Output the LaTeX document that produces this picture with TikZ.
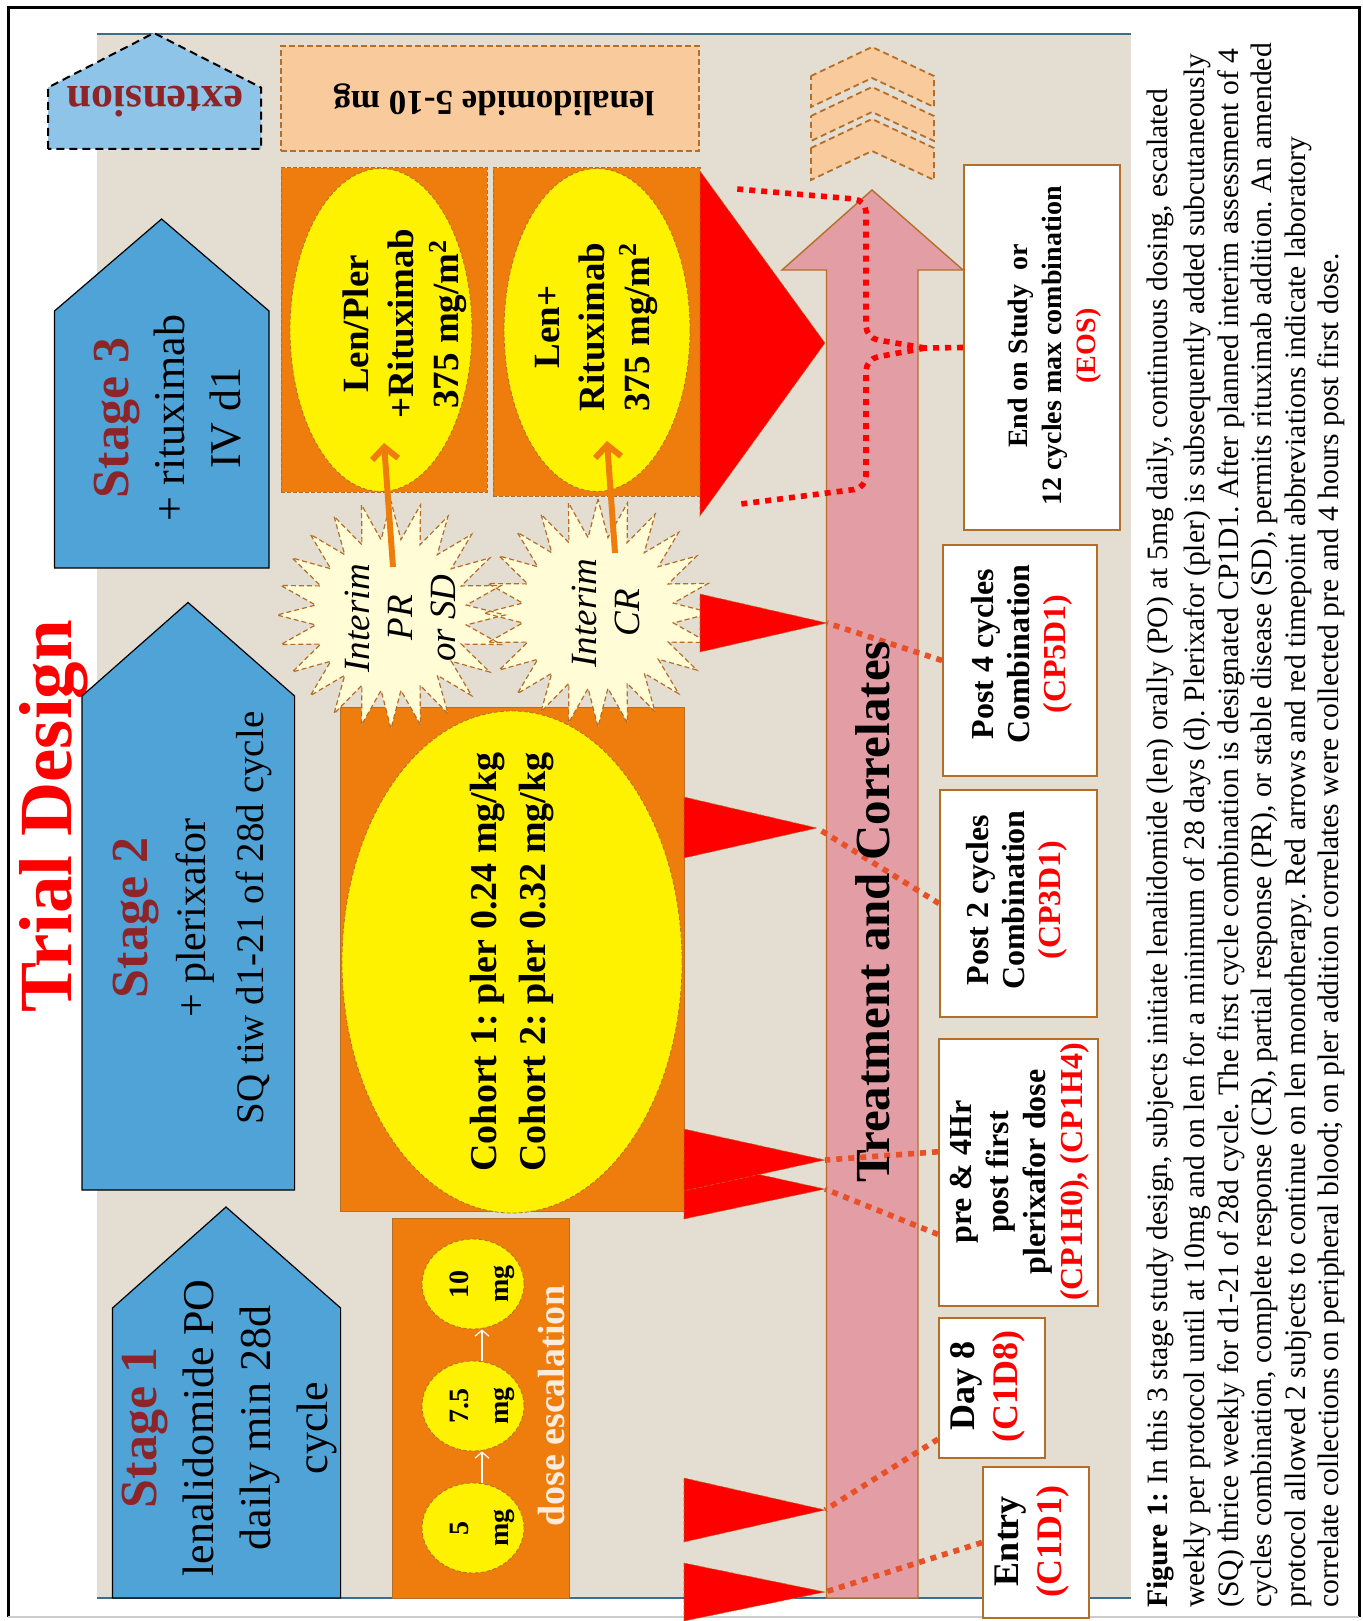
\documentclass[tikz,border=0pt]{standalone}
\usepackage{fontspec}
\setmainfont{Liberation Serif}
\usetikzlibrary{shapes.geometric,arrows.meta,calc}
\definecolor{beige}{RGB}{227,221,210}
\definecolor{stblue}{RGB}{79,163,214}
\definecolor{extblue}{RGB}{141,196,232}
\definecolor{orng}{RGB}{238,125,14}
\definecolor{brwn}{RGB}{181,110,40}
\definecolor{peach}{RGB}{249,202,156}
\definecolor{pinkA}{RGB}{227,157,165}
\definecolor{starfill}{RGB}{255,252,214}
\definecolor{darkred}{RGB}{140,36,40}
\definecolor{dotred}{RGB}{232,80,40}
\definecolor{lineblue}{RGB}{60,110,140}
\definecolor{palepeach}{RGB}{253,235,220}
\frenchspacing
\begin{document}
\begin{tikzpicture}[x=0.5pt,y=-0.5pt,
  stagearrow/.style={fill=stblue,draw=black,line width=0.6pt},
  wbox/.style={draw=brwn,fill=white,line width=1pt,rotate=90,inner sep=0pt},
  tri/.style={fill=red,draw=brwn,line width=0.3pt,dash pattern=on 2pt off 1pt},
  dotline/.style={dotred,line width=2.8pt,dash pattern=on 3pt off 3pt},
  eosline/.style={red,line width=2.8pt,dash pattern=on 3pt off 3pt,rounded corners=6pt},
  rtext/.style={rotate=90,align=center,inner sep=0pt},
  yell/.style={ellipse,fill=yellow,draw=brwn,line width=0.4pt,dash pattern=on 2pt off 1pt,inner sep=0pt},
  orbox/.style={fill=orng,draw=brwn,line width=0.5pt,inner sep=0pt},
  chev/.style={fill=peach,draw=brwn,line width=0.9pt,dash pattern=on 3pt off 2pt},
  starb/.style={star,star points=24,star point ratio=1.5,minimum size=114pt,inner sep=0pt},
  caption/.style={rotate=90,anchor=mid west,inner sep=0pt,font=\fontsize{14.8}{17}\selectfont},
]
\useasboundingbox (0,0) rectangle (1363,1621);
\fill[white] (0,0) rectangle (1363,1621);
% frame
\draw[line width=1.5pt] (8,1617) -- (8,8) -- (1359,8) -- (1359,1617);
\draw[gray!40,line width=1pt] (8,1617) -- (1359,1617);
% panel
\fill[beige] (97,34) rectangle (1131,1598);
\draw[lineblue,line width=0.6pt] (97,34) -- (1131,34);
\draw[lineblue,line width=0.6pt] (97,1598) -- (1131,1598);
% title
\node[rotate=90,anchor=base,text=red,inner sep=0pt,font=\fontsize{37.5}{40}\selectfont\bfseries] (title) at (71,816) {Trial Design};
% stage arrows
\path[stagearrow] (112.5,1598) -- (112.5,1308) -- (226,1207) -- (340.6,1308) -- (340.6,1598) -- cycle;
\path[stagearrow] (82,1190) -- (82,696) -- (188,602.5) -- (294.6,696) -- (294.6,1190) -- cycle;
\path[stagearrow] (54.5,568) -- (54.5,311) -- (161.6,219) -- (269,311) -- (269,568) -- cycle;
\path[fill=extblue,draw=black,line width=1pt,dash pattern=on 4pt off 2.5pt] (48,149) -- (48,87.5) -- (154,33) -- (261,87.5) -- (261,149) -- cycle;
\node[rotate=180,inner sep=0pt,text=darkred,font=\fontsize{22}{24}\selectfont\bfseries] (ext) at (155,102) {extension};
\node[rtext,font=\fontsize{22}{28.5}\selectfont] (st1) at (230,1428) {{\fontsize{26}{28.5}\selectfont\bfseries\color{darkred}Stage 1}\\lenalidomide PO\\daily min 28d\\cycle};
\node[rtext,font=\fontsize{21}{29}\selectfont] (st2) at (192,918) {{\fontsize{26}{29}\selectfont\bfseries\color{darkred}Stage 2}\\+ plerixafor\\{\fontsize{19.5}{29}\selectfont SQ tiw d1-21 of 28d cycle}};
\node[rtext,font=\fontsize{22}{28}\selectfont] (st3) at (167.5,418) {{\fontsize{26}{28}\selectfont\bfseries\color{darkred}Stage 3}\\+ rituximab\\IV d1};
% lenalidomide extension box
\node[fill=peach,draw=brwn,line width=0.6pt,dash pattern=on 3pt off 1.5pt,minimum width=209pt,minimum height=52.5pt,inner sep=0pt] (lenbox) at (490,98.5) {};
\node[rotate=180,inner sep=0pt,font=\fontsize{17.5}{20}\selectfont\bfseries] (lentext) at (494,100) {lenalidomide 5-10 mg};
% stage 3 boxes
\node[orbox,dash pattern=on 2pt off 1pt,minimum width=103pt,minimum height=162pt] (boxA) at (384,330) {};
\node[orbox,dash pattern=on 2pt off 1pt,minimum width=103.5pt,minimum height=164pt] (boxB) at (596.5,332) {};
\node[yell,minimum width=91pt,minimum height=161.5pt] (ellA) at (381,330) {};
\node[yell,minimum width=93pt,minimum height=161.5pt] (ellB) at (597,330) {};
\node[rtext,font=\fontsize{18.5}{22.5}\selectfont\bfseries] (ta) at (405,324) {Len/Pler\\+Rituximab\\375 mg/m\textsuperscript{2}};
\node[rtext,font=\fontsize{18.5}{22.5}\selectfont\bfseries] (tb) at (596,327) {Len+\\Rituximab\\375 mg/m\textsuperscript{2}};
% stage 2 box
\node[orbox,minimum width=172pt,minimum height=252pt] (boxC) at (512,959) {};
\node[yell,minimum width=170pt,minimum height=251pt] (ellC) at (512,962) {};
\node[rtext,font=\fontsize{19}{24.5}\selectfont\bfseries] (tc) at (512,962) {Cohort 1: pler 0.24 mg/kg\\Cohort 2: pler 0.32 mg/kg};
% stage 1 dose box
\node[orbox,minimum width=88.5pt,minimum height=190pt] (boxD) at (480.5,1408) {};
\node[yell,minimum width=51pt,minimum height=45pt] (d10) at (473,1284) {};
\node[yell,minimum width=51pt,minimum height=45pt] (d75) at (473,1406) {};
\node[yell,minimum width=51pt,minimum height=45pt] (d5) at (473,1528) {};
\node[rtext,font=\fontsize{14}{20}\selectfont\bfseries] (t10) at (482,1284) {10\\mg};
\node[rtext,font=\fontsize{14}{20}\selectfont\bfseries] (t75) at (482,1406) {7.5\\mg};
\node[rtext,font=\fontsize{14}{20}\selectfont\bfseries] (t5) at (482,1528) {5\\mg};
\draw[white,line width=0.6pt,-{Straight Barb[length=3pt,width=7pt]}] ([xshift=4.5pt]d5.north) -- ([xshift=4.5pt]d75.south);
\draw[white,line width=0.6pt,-{Straight Barb[length=3pt,width=7pt]}] ([xshift=4.5pt]d75.north) -- ([xshift=4.5pt]d10.south);
\node[rtext,text=palepeach,font=\fontsize{19}{22}\selectfont\bfseries] (desc) at (551,1406) {dose escalation};
% starbursts
\node[starb,fill=starfill] (sbA) at (391,615) {};
\node[starb,fill=starfill] (sbB) at (598,613) {};
\node[starb,draw=brwn,line width=0.6pt,dash pattern=on 2.5pt off 1.5pt] (sbAo) at (391,615) {};
\node[starb,draw=brwn,line width=0.6pt,dash pattern=on 2.5pt off 1.5pt] (sbBo) at (598,613) {};
\node[rtext,font=\fontsize{18.5}{21.5}\selectfont\itshape] (ia) at (400,618) {Interim\\PR\\or SD};
\node[rtext,font=\fontsize{18.5}{21.5}\selectfont\itshape] (ib) at (606,613) {Interim\\CR};
\coordinate (aA0) at (393,567);
\coordinate (aA1) at (384,443);
\coordinate (aB0) at (615,553);
\coordinate (aB1) at (607,441);
\draw[orng,line width=3pt,-{Straight Barb[length=6pt,width=13pt]}] (aA0) -- (aA1);
\draw[orng,line width=3pt,-{Straight Barb[length=6pt,width=13pt]}] (aB0) -- (aB1);
% pink arrow
\path[fill=pinkA,draw=brwn,line width=0.7pt] (826.5,1598) -- (826.5,270) -- (782,270) -- (872,190) -- (963,270) -- (918,270) -- (918,1598) -- cycle;
% chevrons
\path[chev] (811,148) -- (872,119) -- (934,148) -- (934,180) -- (872,151) -- (811,180) -- cycle;
\path[chev] (811,116) -- (872,87) -- (934,116) -- (934,141) -- (872,112) -- (811,141) -- cycle;
\path[chev] (811,76) -- (872,47) -- (934,76) -- (934,107) -- (872,78) -- (811,107) -- cycle;
% red triangles
\coordinate (tip1) at (825,343);
\coordinate (tip2) at (827,623);
\coordinate (tip3) at (817,828);
\coordinate (tip4a) at (825,1160);
\coordinate (tip4b) at (825,1189);
\coordinate (tip5) at (825,1510);
\coordinate (tip6) at (825,1592);
\path[tri] (700,171) -- (tip1) -- (700,516) -- cycle;
\path[tri] (700,594) -- (tip2) -- (700,652) -- cycle;
\path[tri] (684,797) -- (tip3) -- (684,858) -- cycle;
\path[tri] (684,1158) -- (tip4b) -- (684,1219) -- cycle;
\path[tri] (684,1129) -- (tip4a) -- (684,1191) -- cycle;
\path[tri] (684,1478) -- (tip5) -- (684,1542) -- cycle;
\path[tri] (684,1563) -- (tip6) -- (684,1621) -- cycle;
% white timepoint boxes
\node[wbox,minimum width=182.5pt,minimum height=78pt] (eos) at (1042,347.5) {};
\node[wbox,minimum width=115.5pt,minimum height=77pt] (cp5) at (1020,660.5) {};
\node[wbox,minimum width=113.5pt,minimum height=78.5pt] (cp3) at (1018.5,903.5) {};
\node[wbox,minimum width=133.5pt,minimum height=79.5pt] (cp1) at (1018.5,1172.5) {};
\node[wbox,minimum width=70pt,minimum height=53pt] (d8) at (992,1388) {};
\node[wbox,minimum width=75.5pt,minimum height=53pt] (entry) at (1036,1542.5) {};
\node[rtext,font=\fontsize{14}{17}\selectfont\bfseries] (eost) at (1055,346) {End on Study\ \ or\\12 cycles max combination\\\textcolor{red}{(EOS)}};
\node[rtext,font=\fontsize{16}{18}\selectfont\bfseries] (cp5t) at (1022,654) {Post 4 cycles\\Combination\\\textcolor{red}{(CP5D1)}};
\node[rtext,font=\fontsize{16}{18}\selectfont\bfseries] (cp3t) at (1017,900) {Post 2 cycles\\Combination\\\textcolor{red}{(CP3D1)}};
\node[rtext,font=\fontsize{16}{18.5}\selectfont\bfseries] (cp1t) at (1019.5,1172) {pre \& 4Hr\\post first\\plerixafor dose\\\textcolor{red}{(CP1H0), (CP1H4)}};
\node[rtext,font=\fontsize{18}{21.5}\selectfont\bfseries] (d8t) at (987.5,1386) {Day 8\\\textcolor{red}{(C1D8)}};
\node[rtext,font=\fontsize{18}{21.5}\selectfont\bfseries] (entryt) at (1032,1541) {Entry\\\textcolor{red}{(C1D1)}};
% dotted connectors
\draw[dotline] (entry.north) -- (tip6);
\draw[dotline] ($(d8.north west)!0.14!(d8.north east)$) -- (tip5);
\draw[dotline] ($(cp1.north west)!0.577!(cp1.north east)$) -- (tip4a);
\draw[dotline] ($(cp1.north west)!0.27!(cp1.north east)$) -- (tip4b);
\draw[dotline] (cp3.north) -- (tip3);
\draw[dotline] (cp5.north) -- (tip2);
\coordinate (jn) at (925,348);
\draw[red,line width=2.8pt,dash pattern=on 3pt off 3pt] (eos.north) -- (jn);
\draw[eosline] (jn) -- (866,338) -- (866,200) -- (737,189);
\draw[eosline] (jn) -- (866,359) -- (866,488) -- (741,504);
% treatment label
\node[rtext,font=\fontsize{24.5}{26}\selectfont\bfseries] (trt) at (873,912) {Treatment and Correlates};
% caption
\node[caption] (cap1) at (1163,1608) {\textbf{Figure 1:} In this 3 stage study design, subjects initiate lenalidomide (len) orally (PO) at 5mg daily, continuous dosing, escalated};
\node[caption] (cap2) at (1200,1608) {weekly per protocol until at 10mg and on len for a minimum of 28 days (d). Plerixafor (pler) is subsequently added subcutaneously};
\node[caption] (cap3) at (1234,1608) {(SQ) thrice weekly for d1-21 of 28d cycle. The first cycle combination is designated CP1D1. After planned interim assessment of 4};
\node[caption] (cap4) at (1267,1608) {cycles combination, complete response (CR), partial response (PR), or stable disease (SD), permits rituximab addition. An amended};
\node[caption] (cap5) at (1301,1608) {protocol allowed 2 subjects to continue on len monotherapy. Red arrows and red timepoint abbreviations indicate laboratory};
\node[caption] (cap6) at (1334,1608) {correlate collections on peripheral blood; on pler addition correlates were collected pre and 4 hours post first dose.};
\end{tikzpicture}
\end{document}
